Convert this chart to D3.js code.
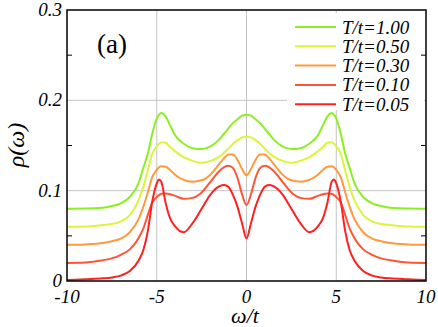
<!DOCTYPE html>
<html>
<head>
<meta charset="utf-8">
<script src="https://cdn.jsdelivr.net/npm/d3@7"></script>
<style>
body { margin: 0; background: #fff; }
svg text { font-family: "Liberation Serif", "DejaVu Serif", Tinos, "Nimbus Roman", "Nimbus Roman No9 L", FreeSerif, "Noto Serif", Times, serif; }
</style>
</head>
<body>
<svg width="438" height="327"></svg>
<script>
// omega/t sample points
var omega = [-10, -9, -8, -7.5, -7, -6.5, -6, -5.75, -5.5, -5.25, -5, -4.875, -4.75, -4.5, -4.25, -4, -3.5, -3, -2.5, -2, -1.5, -1.25, -1, -0.75, -0.5, -0.25, 0,
	0.25, 0.5, 0.75, 1, 1.25, 1.5, 2, 2.5, 3, 3.5, 4, 4.25, 4.5, 4.75, 4.875, 5, 5.25, 5.5, 5.75, 6, 6.5, 7, 7.5, 8, 9, 10];

var labels = ["T/t=1.00", "T/t=0.50", "T/t=0.30", "T/t=0.10", "T/t=0.05"];
var colors = ["#8cf020", "#dcf53a", "#ff9a3c", "#ff5535", "#ff2020"];

var rho100 = [0.080, 0.0802, 0.081, 0.083, 0.086, 0.093, 0.109, 0.125, 0.141, 0.163, 0.180, 0.184, 0.186, 0.182, 0.172, 0.162, 0.152, 0.147, 0.146, 0.149, 0.157, 0.163, 0.169, 0.175, 0.179, 0.183, 0.184,
	0.183, 0.179, 0.175, 0.169, 0.163, 0.157, 0.149, 0.146, 0.147, 0.152, 0.162, 0.172, 0.182, 0.186, 0.184, 0.180, 0.163, 0.141, 0.125, 0.109, 0.093, 0.086, 0.083, 0.081, 0.0802, 0.080];
var rho050 = [0.060, 0.0603, 0.062, 0.063, 0.066, 0.073, 0.090, 0.104, 0.122, 0.141, 0.149, 0.152, 0.1535, 0.153, 0.148, 0.144, 0.137, 0.133, 0.131, 0.133, 0.138, 0.142, 0.147, 0.152, 0.156, 0.159, 0.160,
	0.159, 0.156, 0.152, 0.147, 0.142, 0.138, 0.133, 0.131, 0.133, 0.137, 0.144, 0.148, 0.153, 0.1535, 0.152, 0.149, 0.141, 0.122, 0.104, 0.090, 0.073, 0.066, 0.063, 0.062, 0.0603, 0.060];
var rho030 = [0.040, 0.0405, 0.042, 0.044, 0.047, 0.054, 0.069, 0.082, 0.098, 0.115, 0.123, 0.126, 0.127, 0.1265, 0.123, 0.118, 0.112, 0.110, 0.1115, 0.118, 0.130, 0.136, 0.140, 0.140, 0.134, 0.124, 0.117,
	0.124, 0.134, 0.140, 0.140, 0.136, 0.130, 0.118, 0.1115, 0.110, 0.112, 0.118, 0.123, 0.1265, 0.127, 0.126, 0.123, 0.115, 0.098, 0.082, 0.069, 0.054, 0.047, 0.044, 0.042, 0.0405, 0.040];
var rho010 = [0.020, 0.0205, 0.023, 0.025, 0.029, 0.035, 0.048, 0.058, 0.073, 0.087, 0.093, 0.095, 0.0965, 0.097, 0.096, 0.0945, 0.091, 0.092, 0.098, 0.110, 0.122, 0.126, 0.1275, 0.125, 0.114, 0.096, 0.084,
	0.096, 0.114, 0.125, 0.1275, 0.126, 0.122, 0.110, 0.098, 0.092, 0.091, 0.0945, 0.096, 0.097, 0.0965, 0.095, 0.093, 0.087, 0.073, 0.058, 0.048, 0.035, 0.029, 0.025, 0.023, 0.0205, 0.020];
var rho005 = [0.001, 0.002, 0.003, 0.004, 0.006, 0.011, 0.023, 0.034, 0.055, 0.088, 0.108, 0.1125, 0.110, 0.086, 0.069, 0.061, 0.054, 0.064, 0.080, 0.096, 0.105, 0.1063, 0.104, 0.095, 0.082, 0.064, 0.047,
	0.064, 0.082, 0.095, 0.104, 0.1063, 0.105, 0.096, 0.080, 0.064, 0.054, 0.061, 0.069, 0.086, 0.110, 0.1125, 0.108, 0.088, 0.055, 0.034, 0.023, 0.011, 0.006, 0.004, 0.003, 0.002, 0.001];

var series = [rho100, rho050, rho030, rho010, rho005];

var xTicks = [-10, -5, 0, 5, 10];
var yTicks = [0, 0.1, 0.2, 0.3];
var yMinor = [0.05, 0.15, 0.25];

var svg = d3.select("svg");
var mLeft = 67, mRight = 426, mTop = 10, mBottom = 281;

var x = d3.scaleLinear().domain([-10, 10]).range([mLeft, mRight]);
var y = d3.scaleLinear().domain([0, 0.3]).range([mBottom, mTop]);

// grid
var grid = svg.append("g").attr("stroke", "#c4c4c4").attr("stroke-width", 1);
grid.selectAll("line.gx")
	.data([-5, 0, 5])
	.enter().append("line")
		.attr("x1", function(d) { return x(d); })
		.attr("x2", function(d) { return x(d); })
		.attr("y1", mTop).attr("y2", mBottom);
grid.selectAll("line.gy")
	.data([0.1, 0.2])
	.enter().append("line")
		.attr("y1", function(d) { return y(d); })
		.attr("y2", function(d) { return y(d); })
		.attr("x1", mLeft).attr("x2", mRight);

// curves
var line = d3.line()
	.x(function(d) { return x(d[0]); })
	.y(function(d) { return y(d[1]); })
	.curve(d3.curveMonotoneX);

svg.append("g")
	.selectAll("path")
	.data(series)
	.enter().append("path")
		.attr("fill", "none")
		.attr("stroke", function(d, i) { return colors[i]; })
		.attr("stroke-width", 2)
		.attr("d", function(d) { return line(d.map(function(v, j) { return [omega[j], v]; })); });

// legend
var legend = svg.append("g");
legend.append("rect")
	.attr("x", 287).attr("y", 13)
	.attr("width", 137).attr("height", 97)
	.attr("fill", "#fff");
var items = legend.selectAll("g")
	.data(labels)
	.enter().append("g")
		.attr("transform", function(d, i) { return "translate(0," + (27 + i * 19.3) + ")"; });
items.append("line")
	.attr("x1", 295).attr("x2", 336)
	.attr("stroke", function(d, i) { return colors[i]; })
	.attr("stroke-width", 2);
items.append("text")
	.attr("x", 342).attr("y", 6.5)
	.attr("font-size", 19).attr("font-style", "italic")
	.text(function(d) { return d; });

// frame
svg.append("rect")
	.attr("x", mLeft).attr("y", mTop)
	.attr("width", mRight - mLeft).attr("height", mBottom - mTop)
	.attr("fill", "none").attr("stroke", "#000").attr("stroke-width", 1.5);

// minor ticks
var ticks = svg.append("g").attr("stroke", "#000").attr("stroke-width", 1);
ticks.selectAll("line.l")
	.data(yMinor)
	.enter().append("line")
		.attr("x1", mLeft).attr("x2", mLeft + 5)
		.attr("y1", function(d) { return y(d); })
		.attr("y2", function(d) { return y(d); });
ticks.selectAll("line.r")
	.data(yMinor)
	.enter().append("line")
		.attr("x1", mRight - 5).attr("x2", mRight)
		.attr("y1", function(d) { return y(d); })
		.attr("y2", function(d) { return y(d); });

// tick labels
svg.append("g")
	.selectAll("text")
	.data(yTicks)
	.enter().append("text")
		.attr("x", 62)
		.attr("y", function(d) { return y(d) + 6; })
		.attr("text-anchor", "end")
		.attr("font-size", 19).attr("font-style", "italic")
		.text(function(d) { return d === 0 ? "0" : d3.format(".1f")(d); });

svg.append("g")
	.selectAll("text")
	.data(xTicks)
	.enter().append("text")
		.attr("x", function(d) { return x(d); })
		.attr("y", 303)
		.attr("text-anchor", "middle")
		.attr("font-size", 19).attr("font-style", "italic")
		.text(function(d) { return d; });

// axis titles
svg.append("text")
	.attr("x", 245).attr("y", 323)
	.attr("text-anchor", "middle")
	.attr("font-size", 22).attr("font-style", "italic")
	.text("ω/t");

svg.append("text")
	.attr("transform", "translate(24,145) rotate(-90)")
	.attr("text-anchor", "middle")
	.attr("font-size", 24).attr("font-style", "italic")
	.text("ρ(ω)");

svg.append("text")
	.attr("x", 97).attr("y", 53)
	.attr("font-size", 27)
	.text("(a)");
</script>
</body>
</html>
